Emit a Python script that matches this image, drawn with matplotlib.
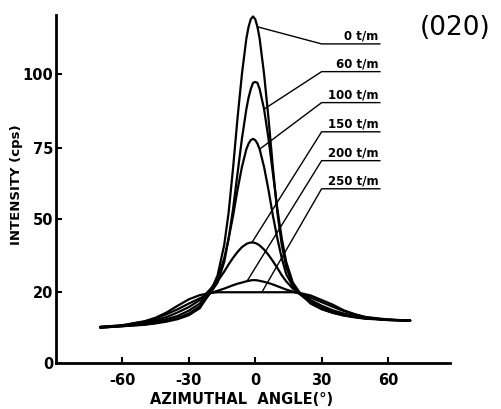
import numpy as np
import matplotlib
matplotlib.use('Agg')
import matplotlib.pyplot as plt

plt.rcParams['axes.unicode_minus'] = False

# azimuthal angle (deg) and intensity (cps)
angle = [-70, -60, -50, -45, -40, -35, -30, -25, -20, -17, -14, -12, -10, -8, -6, -4, -3, -2, -1,
         0, 1, 2, 4, 6, 8, 10, 12, 14, 17, 20, 25, 30, 35, 40, 45, 50, 60, 70]

i_0 = [10, 10.4, 10.8, 11.2, 11.7, 12.4, 13.5, 15.5, 20.5, 27, 39.5, 52.5, 68, 85, 100, 112, 116, 118.6, 119.5,
       118.6, 116, 112, 100, 85, 68, 52.5, 39.5, 30.5, 23, 19.5, 17, 15.3, 14.2, 13.5, 13, 12.6, 12.2, 12]
i_60 = [10, 10.4, 10.9, 11.3, 11.9, 12.7, 14, 16, 20, 24, 32.5, 42.2, 53.7, 66, 78.1, 88.1, 92, 94.9, 97,
        97.3, 97, 94.9, 88.1, 78.1, 66, 53.7, 42.2, 32.5, 24, 20, 16.8, 15.2, 14.2, 13.4, 12.9, 12.5, 12.2, 12]
i_100 = [10, 10.5, 11.2, 11.7, 12.4, 13.3, 14.8, 16.8, 21.5, 25.5, 34, 42.2, 51.3, 60.3, 68.3, 74.5, 76.4, 77.6, 78,
         77.6, 76.4, 74.5, 68.3, 60.3, 51.3, 42.2, 34, 27.5, 22.5, 19.8, 17.3, 15.7, 14.5, 13.7, 13.1, 12.7, 12.2, 12]
i_150 = [10.2, 10.5, 11.4, 12.1, 13, 14.3, 15.8, 17.8, 21.5, 24.5, 28.5, 31.5, 34.2, 36.6, 38.6, 39.9, 40.3, 40.5, 40.5,
         40.3, 39.9, 39.3, 37.6, 35.4, 32.8, 30, 27, 24.5, 21.5, 19.8, 17.8, 16.2, 14.9, 14, 13.2, 12.7, 12.2, 12]
i_200 = [10.2, 10.6, 11.7, 12.6, 13.8, 15.2, 16.8, 18.3, 19.8, 20.6, 21.5, 22.2, 22.9, 23.5, 24, 24.5, 24.7, 24.9, 25,
         25, 24.9, 24.7, 24.3, 23.8, 23.2, 22.5, 21.8, 21.1, 20.3, 19.6, 18.5, 17.2, 15.9, 14.7, 13.7, 13, 12.3, 12]
i_250 = [10.2, 10.7, 11.8, 12.8, 14.3, 16.2, 18, 19.2, 19.8, 20, 20, 20, 20, 20, 20, 20, 20, 20, 20,
         20, 20, 20, 20, 20, 20, 20, 20, 20, 20, 19.8, 19.1, 17.8, 16.5, 14.9, 13.8, 12.9, 12.1, 12]

curves = [i_0, i_60, i_100, i_150, i_200, i_250]
names = ['0 t/m', '60 t/m', '100 t/m', '150 t/m', '200 t/m', '250 t/m']
# where each leader line touches its curve (deg) and the level of its label (cps)
touch = [1, 4, 2, -1.5, -3.7, 3]
label_y = [110.2, 100.8, 90.3, 80.4, 70.5, 60.7]

xticks = [-60, -30, 0, 30, 60]
yticks = [0, 20, 50, 75, 100]

# the printed intensity axis is not linear, ticks are nearly evenly spaced
yv = [0, 20, 50, 75, 100, 125]
yp = [0, 71, 144, 216, 290, 364]


def fwd(v):
    return np.interp(v, yv, yp)


def inv(p):
    return np.interp(p, yp, yv)


fig = plt.figure(figsize=(5.02, 4.09), dpi=100)
ax = fig.add_axes([56/502, 46/409, 394/502, 348/409])
ax.set_yscale('function', functions=(fwd, inv))

for c in curves:
    ax.plot(angle, c, color='black', lw=1.6, solid_capstyle='round')

for c, n, t, ly in zip(curves, names, touch, label_y):
    ax.plot([t, 30, 56.3], [np.interp(t, angle, c), ly, ly], color='black', lw=1.0)
    ax.annotate(n, xy=(55.8, ly), xytext=(0, 1), textcoords='offset points',
                ha='right', va='bottom', fontsize=8.5, fontweight='bold')

ax.set_xlim(-90, 88)
ax.set_ylim(0, 120)
ax.set_xticks(xticks)
ax.set_yticks(yticks)
ax.minorticks_off()
ax.spines['top'].set_visible(False)
ax.spines['right'].set_visible(False)
ax.spines['left'].set_linewidth(2)
ax.spines['bottom'].set_linewidth(2)
ax.tick_params(axis='both', direction='in', length=4, width=1.5, labelsize=10.5)
ax.tick_params(axis='x', pad=7)
ax.tick_params(axis='y', pad=2)
for lab in ax.get_xticklabels() + ax.get_yticklabels():
    lab.set_fontweight('bold')

fig.text(242/502, 1 - 399/409, 'AZIMUTHAL  ANGLE(°)', ha='center', va='center',
         fontsize=10.5, fontweight='bold')
fig.text(17/502, 1 - 185/409, 'INTENSITY (cps)', rotation=90, ha='center', va='center',
         fontsize=9.5, fontweight='bold')
fig.text(455/502, 1 - 28/409, '(020)', ha='center', va='center', fontsize=19)

fig.savefig('out.png', dpi=100)
